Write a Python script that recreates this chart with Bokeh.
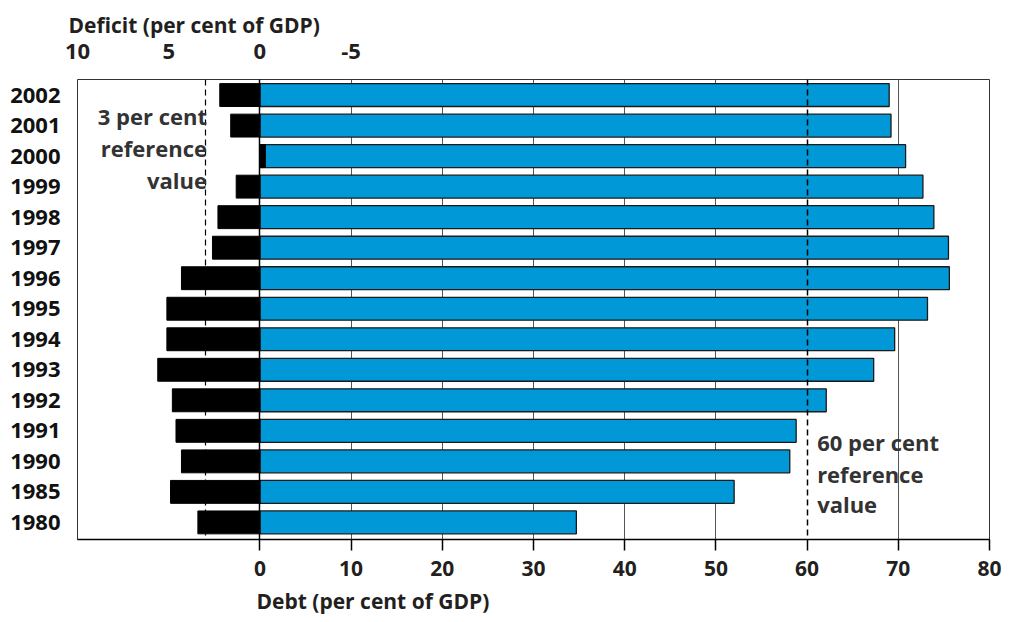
from bokeh.plotting import figure
from bokeh.models import Range1d, LinearAxis, FixedTicker, Label, Title, ColumnDataSource
from bokeh.embed import file_html
from bokeh.resources import INLINE

# ---- data ----
years = ["1980", "1985", "1990", "1991", "1992", "1993", "1994", "1995",
         "1996", "1997", "1998", "1999", "2000", "2001", "2002"]
debt = [34.7, 52.0, 58.1, 58.8, 62.1, 67.3, 69.6, 73.2,
        75.6, 75.5, 73.9, 72.7, 70.8, 69.2, 69.0]
deficit = [3.4, 4.9, 4.3, 4.6, 4.8, 5.6, 5.1, 5.1,
           4.3, 2.6, 2.3, 1.3, -0.3, 1.6, 2.2]
debt_ticks = [0, 10, 20, 30, 40, 50, 60, 70, 80]
deficit_ticks = [10, 5, 0, -5]
deficit_tick_labels = ["10", "5", "0", "-5"]
debt_ref = 60
deficit_ref = 3

FONT = "Open Sans"
TXT = "#231f20"
BLUE = "#0098d6"

rows = list(range(len(years)))
src = ColumnDataSource(dict(row=rows, year=years, debt=debt, deficit=deficit))

p = figure(width=1009, height=622, title=None, toolbar_location=None,
           output_backend="svg",
           x_range=Range1d(-20, 80), y_range=Range1d(-0.56, 14.51),
           min_border_left=77, min_border_right=20,
           min_border_top=79, min_border_bottom=83)
p.extra_x_ranges = {"deficit": Range1d(10, -40)}
p.background_fill_color = "white"
p.border_fill_color = "white"
p.outline_line_color = "#333333"
p.outline_line_width = 1

# grid
p.ygrid.grid_line_color = None
p.xgrid.ticker = FixedTicker(ticks=[t for t in debt_ticks if t not in (0, debt_ref, debt_ticks[-1])])
p.xgrid.grid_line_color = "#555555"
p.xgrid.grid_line_width = 1

# bars
p.hbar(y="row", left=0, right="debt", height=0.75, source=src,
       fill_color=BLUE, line_color="#1a1a1a", line_width=1.3)
p.hbar(y="row", left=0, right="deficit", height=0.75, source=src,
       x_range_name="deficit", fill_color="black", line_color="black", line_width=1)

# reference lines
p.vspan(x=[0], line_color="black", line_width=1.5)
p.vspan(x=[debt_ref], line_color="black", line_width=1.5, line_dash="6 4")
p.vspan(x=[deficit_ref], x_range_name="deficit", line_color="black",
        line_width=1.2, line_dash="6 4")

# bottom axis (debt)
xa = p.xaxis[0]
xa.ticker = FixedTicker(ticks=debt_ticks)
xa.axis_line_color = "black"
xa.axis_line_width = 1.5
xa.major_tick_in = 0
xa.major_tick_out = 11
xa.major_tick_line_color = "black"
xa.major_tick_line_width = 1.5
xa.minor_tick_line_color = None
xa.major_label_standoff = 10
xa.major_label_text_font = FONT
xa.major_label_text_font_style = "bold"
xa.major_label_text_font_size = "21px"
xa.major_label_text_color = TXT

# left axis (years)
ya = p.yaxis[0]
ya.ticker = FixedTicker(ticks=rows)
ya.major_label_overrides = {r: y for r, y in zip(rows, years)}
ya.axis_line_color = None
ya.major_tick_line_color = None
ya.minor_tick_line_color = None
ya.major_label_standoff = 11
ya.major_label_text_font = FONT
ya.major_label_text_font_style = "bold"
ya.major_label_text_font_size = "22px"
ya.major_label_text_color = "#111111"

# top axis (deficit)
ta = LinearAxis(x_range_name="deficit", ticker=FixedTicker(ticks=deficit_ticks))
ta.major_label_overrides = {t: l for t, l in zip(deficit_ticks, deficit_tick_labels)}
ta.axis_line_color = None
ta.major_tick_line_color = None
ta.minor_tick_line_color = None
ta.major_label_standoff = 15
ta.major_label_text_font = FONT
ta.major_label_text_font_style = "bold"
ta.major_label_text_font_size = "22px"
ta.major_label_text_color = TXT
p.add_layout(ta, "above")

p.add_layout(Title(text="Deficit (per cent of GDP)", align="left", offset=-9,
                   text_font=FONT, text_font_style="bold", text_font_size="21px",
                   text_color=TXT, standoff=3), "above")
p.add_layout(Title(text="Debt (per cent of GDP)", align="left", offset=179,
                   text_font=FONT, text_font_style="bold", text_font_size="21px",
                   text_color=TXT, standoff=12), "below")

# annotations
for txt, yy in [("3 per cent", 13.33), ("reference", 12.26), ("value", 11.22)]:
    p.add_layout(Label(x=-5.8, y=yy, text=txt, text_align="right",
                       text_baseline="alphabetic", text_font=FONT,
                       text_font_style="bold", text_font_size="22px",
                       text_color="#333333"))
for txt, yy in [("60 per cent", 2.62), ("reference", 1.60), ("value", 0.61)]:
    p.add_layout(Label(x=61.1, y=yy, text=txt, text_align="left",
                       text_baseline="alphabetic", text_font=FONT,
                       text_font_style="bold", text_font_size="22px",
                       text_color="#333333"))

open("out.html", "w").write(file_html(p, INLINE))
